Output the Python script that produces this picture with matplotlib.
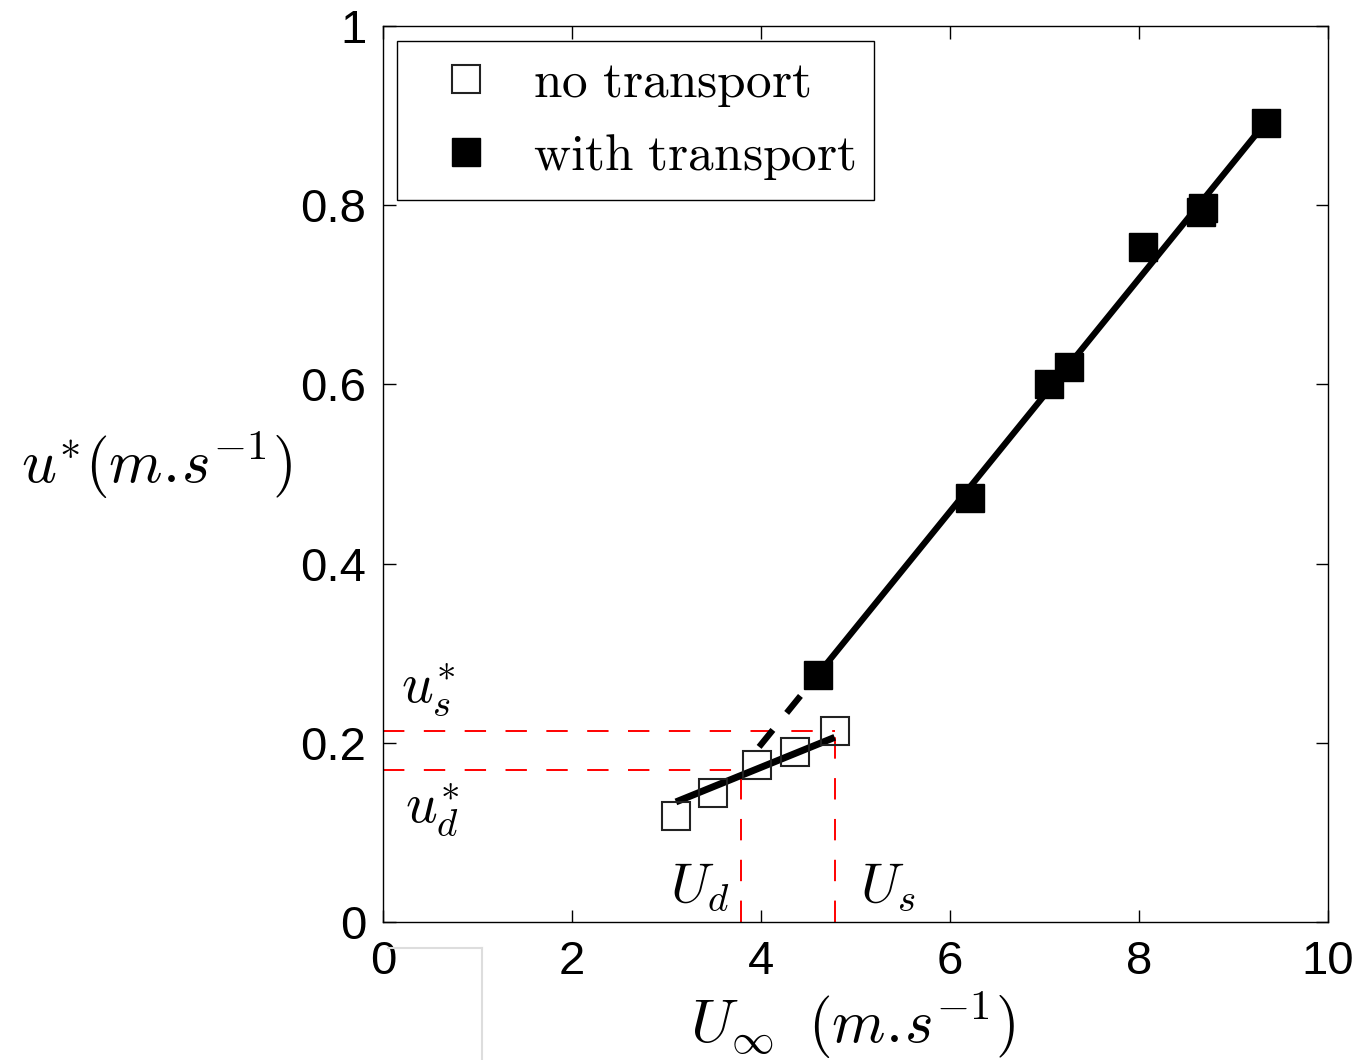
import matplotlib
matplotlib.use('Agg')
import matplotlib.pyplot as plt
from matplotlib.lines import Line2D
import numpy as np

plt.rcParams['mathtext.fontset'] = 'cm'
plt.rcParams['font.family'] = ['Liberation Sans', 'DejaVu Sans']

# measurements without sand transport
U_no = [3.10, 3.49, 3.96, 4.36, 4.78]
u_no = [0.118, 0.144, 0.175, 0.190, 0.213]

# measurements with sand transport
U_tr = [4.60, 6.21, 7.05, 7.26, 8.04, 8.66, 8.68, 9.34]
u_tr = [0.276, 0.473, 0.600, 0.619, 0.753, 0.792, 0.797, 0.892]

# linear fits (slope, intercept)
fit_no = (0.0429, 0.001)
fit_tr = (0.130, -0.322)
fit_tr_dash_start = 3.98

# thresholds
U_d, ud_star = 3.79, 0.170
U_s, us_star = 4.78, 0.213

fig = plt.figure(figsize=(13.59, 10.60), dpi=100)
ax = fig.add_axes([0.2818, 0.1302, 0.6954, 0.8453])

red = '#ff0000'
red_dash = (0, (11, 10))
ax.plot([0, U_s], [us_star, us_star], color=red, lw=1.4, ls=red_dash, zorder=1)
ax.plot([0, U_d], [ud_star, ud_star], color=red, lw=1.4, ls=red_dash, zorder=1)
ax.plot([U_d, U_d], [0, ud_star], color=red, lw=1.4, ls=red_dash, zorder=1)
ax.plot([U_s, U_s], [0, us_star], color=red, lw=1.4, ls=red_dash, zorder=1)

# fit lines
xl = np.array([U_no[0], U_no[-1]])
ax.plot(xl, fit_no[0] * xl + fit_no[1], color='black', lw=5, solid_capstyle='butt', zorder=3)
xu = np.array([U_tr[0], U_tr[-1]])
ax.plot(xu, fit_tr[0] * xu + fit_tr[1], color='black', lw=4.5, solid_capstyle='butt', zorder=3)
xd = np.array([fit_tr_dash_start, U_tr[0]])
ax.plot(xd, fit_tr[0] * xd + fit_tr[1], color='black', lw=4.5, ls=(0, (3.5, 3.5)),
        dash_capstyle='butt', zorder=3)

ax.plot(U_no, u_no, 's', ms=20, mfc='none', mec='#222222', mew=1.5, zorder=4,
        label=r'$\mathrm{no\ transport}$')
ax.plot(U_tr, u_tr, 's', ms=20, mfc='black', mec='black', mew=1, zorder=4,
        label=r'$\mathrm{with\ transport}$')

ax.set_xlim(0, 10)
ax.set_ylim(0, 1)
ax.set_xticks([0, 2, 4, 6, 8, 10])
ax.set_yticks([0, 0.2, 0.4, 0.6, 0.8, 1])
ax.set_yticklabels(['0', '0.2', '0.4', '0.6', '0.8', '1'])
ax.tick_params(direction='in', length=9, width=1, top=True, right=True, labelsize=34)
ax.tick_params(axis='x', pad=13)
ax.tick_params(axis='y', pad=12)
for s in ax.spines.values():
    s.set_linewidth(1)

ax.text(-2.40, 0.51, r'$u^{*}(m.\!s^{-1})$', fontsize=44, ha='center', va='center')
ax.text(4.97, -0.115, r'$U_{\infty}\;\;(m.\!s^{-1})$', fontsize=44, ha='center', va='center')

ax.text(0.48, 0.259, r'$u^{*}_{s}$', fontsize=40, ha='center', va='center')
ax.text(0.52, 0.125, r'$u^{*}_{d}$', fontsize=40, ha='center', va='center')
ax.text(3.35, 0.038, r'$U_{d}$', fontsize=40, ha='center', va='center')
ax.text(5.34, 0.038, r'$U_{s}$', fontsize=40, ha='center', va='center')

leg = ax.legend(loc='upper left', bbox_to_anchor=(0.0148, 0.983), borderaxespad=0,
                fontsize=37, fancybox=False, framealpha=1, edgecolor='black',
                borderpad=0.35, handlelength=2.0, handletextpad=0.3,
                labelspacing=0.45, markerscale=1.0)
leg.get_frame().set_linewidth(1)

# faint grey frame left under the axis
fig.add_artist(Line2D([388 / 1359, 482 / 1359], [1 - 948 / 1060, 1 - 948 / 1060],
                      color='#dddddd', lw=1.5))
fig.add_artist(Line2D([482 / 1359, 482 / 1359], [1 - 948 / 1060, 0],
                      color='#dddddd', lw=1.5))

fig.savefig('out.png', dpi=100)
